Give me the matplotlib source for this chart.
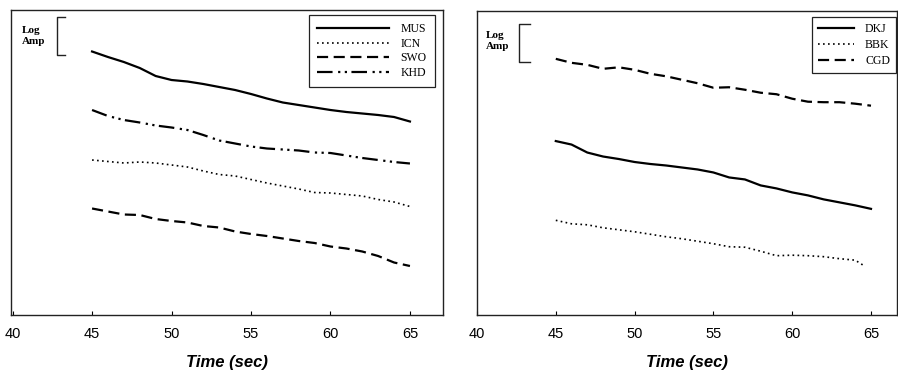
import matplotlib
matplotlib.use("Agg")
import matplotlib.pyplot as plt
from matplotlib.lines import Line2D

# ---------------- data (relative log amplitude, arbitrary units) ----------------
t = [45, 46, 47, 48, 49, 50, 51, 52, 53, 54, 55, 56, 57, 58, 59, 60, 61, 62, 63, 64, 65]

mus = [26.35, 25.8, 25.3, 24.7, 23.9, 23.5, 23.35, 23.1, 22.8, 22.5, 22.1,
       21.65, 21.25, 21.0, 20.75, 20.5, 20.3, 20.15, 20.0, 19.8, 19.35]
icn = [15.5, 15.35, 15.2, 15.3, 15.2, 15.0, 14.8, 14.4, 14.05, 13.9, 13.55,
       13.2, 12.9, 12.6, 12.25, 12.2, 12.05, 11.9, 11.55, 11.3, 10.85]
swo = [10.65, 10.35, 10.05, 10.0, 9.6, 9.4, 9.25, 8.9, 8.75, 8.35, 8.1,
       7.9, 7.65, 7.4, 7.2, 6.85, 6.65, 6.35, 5.9, 5.25, 4.9]
khd = [20.5, 19.9, 19.5, 19.25, 18.95, 18.75, 18.5, 18.0, 17.45, 17.15, 16.85,
       16.65, 16.55, 16.45, 16.25, 16.2, 15.95, 15.7, 15.5, 15.3, 15.15]

dkj = [17.45, 17.1, 16.3, 15.9, 15.65, 15.35, 15.15, 15.0, 14.8, 14.6, 14.3,
       13.8, 13.6, 13.0, 12.7, 12.3, 12.0, 11.6, 11.3, 11.0, 10.65]
t_bbk = [45, 46, 47, 48, 49, 50, 51, 52, 53, 54, 55, 56, 57, 58, 59, 60, 61, 62, 63, 64, 64.5]
bbk = [9.5, 9.15, 9.05, 8.75, 8.55, 8.35, 8.1, 7.85, 7.65, 7.4, 7.15,
       6.85, 6.8, 6.4, 5.95, 6.0, 5.95, 5.85, 5.65, 5.5, 5.0]
cgd = [25.7, 25.3, 25.1, 24.7, 24.85, 24.6, 24.2, 23.95, 23.6, 23.25, 22.8,
       22.85, 22.6, 22.3, 22.15, 21.7, 21.4, 21.35, 21.35, 21.2, 21.0]

xticks = [40, 45, 50, 55, 60, 65]
xlabel = "Time (sec)"

# ---------------- figure ----------------
W, H = 898, 370
fig = plt.figure(figsize=(W / 100, H / 100), dpi=100)

def px_axes(x0, y0, x1, y1):
    return fig.add_axes([x0 / W, 1 - y1 / H, (x1 - x0) / W, (y1 - y0) / H])

SOLID = '-'
DOTTED = (0, (1, 2))
DASHED = (0, (5, 2.5))
DASHDOT = (0, (7, 2.5, 1, 2, 1, 2))

def style_axes(ax, xlim):
    ax.set_xlim(*xlim)
    ax.set_ylim(0, 30.5)
    ax.set_yticks([])
    ax.set_xticks(xticks)
    ax.set_xticklabels([str(v) for v in xticks], family='Liberation Sans', fontsize=10.5)
    ax.tick_params(axis='x', direction='in', length=3, width=0.8, pad=9)
    for s in ax.spines.values():
        s.set_linewidth(1.0)
        s.set_color('#222222')
    ax.set_xlabel(xlabel, family='Liberation Sans', fontsize=12, fontweight='bold',
                  fontstyle='italic', labelpad=10)

def log_amp(x_txt, y_txt1, x_br, y_br0, y_br1, x_br_end):
    fig.text(x_txt / W, 1 - y_txt1 / H, "Log\nAmp", family='Liberation Serif',
             fontsize=8, fontweight='bold', ha='left', va='top', linespacing=1.25)
    fig.add_artist(Line2D([x_br_end / W, x_br / W, x_br / W, x_br_end / W],
                          [1 - y_br0 / H, 1 - y_br0 / H, 1 - y_br1 / H, 1 - y_br1 / H],
                          color='#222222', lw=1.0))

LEGPROP = {'family': 'Liberation Serif', 'size': 8.5}

# ---------------- left panel ----------------
ax1 = px_axes(11, 10, 443, 315)
ax1.plot(t, mus, color='black', lw=1.6, ls=SOLID, label='MUS')
ax1.plot(t, icn, color='black', lw=1.2, ls=DOTTED, label='ICN')
ax1.plot(t, swo, color='black', lw=1.6, ls=DASHED, label='SWO')
ax1.plot(t, khd, color='black', lw=1.6, ls=DASHDOT, label='KHD')
style_axes(ax1, (39.9, 67.08))
leg1 = ax1.legend(loc='upper right', bbox_to_anchor=(435 / W, 1 - 15 / H),
                  bbox_transform=fig.transFigure, borderaxespad=0, prop=LEGPROP,
                  handlelength=6.1, handletextpad=1.0, labelspacing=0.22,
                  borderpad=0.7, fancybox=False, framealpha=1, edgecolor='#222222')
leg1.get_frame().set_linewidth(0.9)
log_amp(22, 26, 57, 17, 55, 65)

# ---------------- right panel ----------------
ax2 = px_axes(477, 11, 897, 315)
ax2.plot(t, dkj, color='black', lw=1.6, ls=SOLID, label='DKJ')
ax2.plot(t_bbk, bbk, color='black', lw=1.2, ls=DOTTED, label='BBK')
ax2.plot(t, cgd, color='black', lw=1.6, ls=DASHED, label='CGD')
style_axes(ax2, (40.0, 66.65))
leg2 = ax2.legend(loc='upper right', bbox_to_anchor=(896 / W, 1 - 17 / H),
                  bbox_transform=fig.transFigure, borderaxespad=0, prop=LEGPROP,
                  handlelength=3.1, handletextpad=0.9, labelspacing=0.35,
                  borderpad=0.5, fancybox=False, framealpha=1, edgecolor='#222222')
leg2.get_frame().set_linewidth(0.9)
log_amp(486, 31, 519, 24, 62, 530)

fig.savefig("out.png", dpi=100)
